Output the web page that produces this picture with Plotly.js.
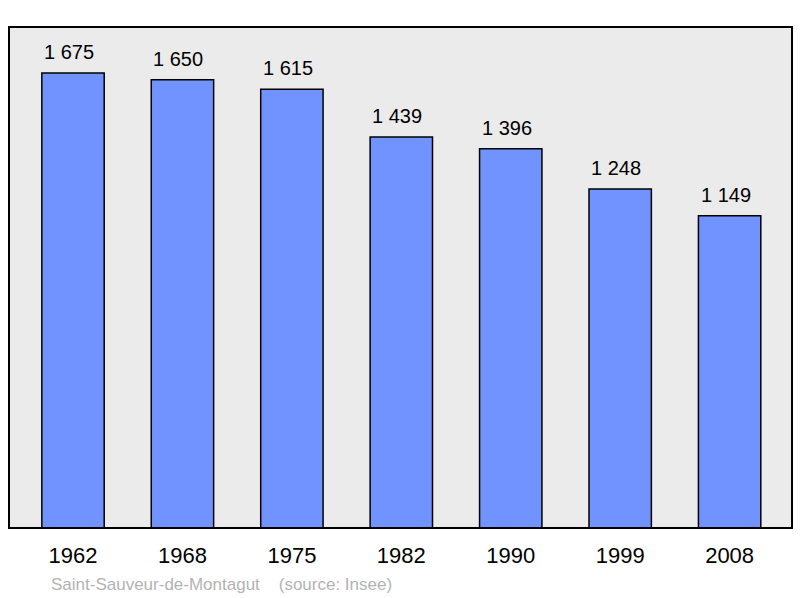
<!DOCTYPE html>
<html><head><meta charset="utf-8">
<script src="https://cdn.plot.ly/plotly-3.0.1.min.js"></script>
<style>html,body{margin:0;padding:0;background:#fff;}#chart{width:800px;height:598px;}</style>
</head><body><div id="chart"></div>
<script>
const years = ['1962','1968','1975','1982','1990','1999','2008'];
const population = [1675, 1650, 1615, 1439, 1396, 1248, 1149];
const sourceText = 'Saint-Sauveur-de-Montagut    (source: Insee)';

const idx = years.map((_, i) => i);
function fmt(v){ return String(v).replace(/\B(?=(\d{3})+(?!\d))/g, ' '); }
const FONT = 'Liberation Sans, Arial, sans-serif';

const trace = {
  type: 'bar', x: idx, y: population, width: 0.57,
  marker: {color: '#7093ff', line: {color: '#000', width: 1.5}},
  hoverinfo: 'skip'
};
const annotations = idx.map((i, k) => ({
  x: i, y: population[k], xref: 'x', yref: 'y', text: fmt(population[k]),
  showarrow: false, yanchor: 'bottom', yshift: 8, xshift: -4,
  font: {family: FONT, size: 20, color: '#000'}
}));
annotations.push({
  x: (49-9)/783, y: -(584-528)/501, xref: 'paper', yref: 'paper', xanchor: 'left', yanchor: 'middle',
  text: sourceText, showarrow: false,
  font: {family: FONT, size: 17, color: '#b3b3b3'}
});

const layout = {
  width: 800, height: 598,
  margin: {l: 9, r: 8, t: 27, b: 70, pad: 0},
  paper_bgcolor: '#ffffff', plot_bgcolor: '#ebebeb',
  showlegend: false,
  xaxis: {range: [-0.585, 6.57], tickmode: 'array', tickvals: idx, ticktext: years,
    showgrid: false, zeroline: false, showline: false, ticks: '', ticklabelstandoff: 12,
    tickfont: {family: FONT, size: 22, color: '#000'}, fixedrange: true},
  yaxis: {range: [0, 1844], showgrid: false, zeroline: false, showticklabels: false, ticks: '', fixedrange: true},
  annotations: annotations,
  shapes: [{type: 'rect', xref: 'paper', yref: 'paper', x0: 0, x1: 1, y0: 0, y1: 1,
    line: {color: '#000', width: 2}, fillcolor: 'rgba(0,0,0,0)', layer: 'above'}]
};
Plotly.newPlot('chart', [trace], layout, {displayModeBar: false, staticPlot: true});
</script></body></html>
